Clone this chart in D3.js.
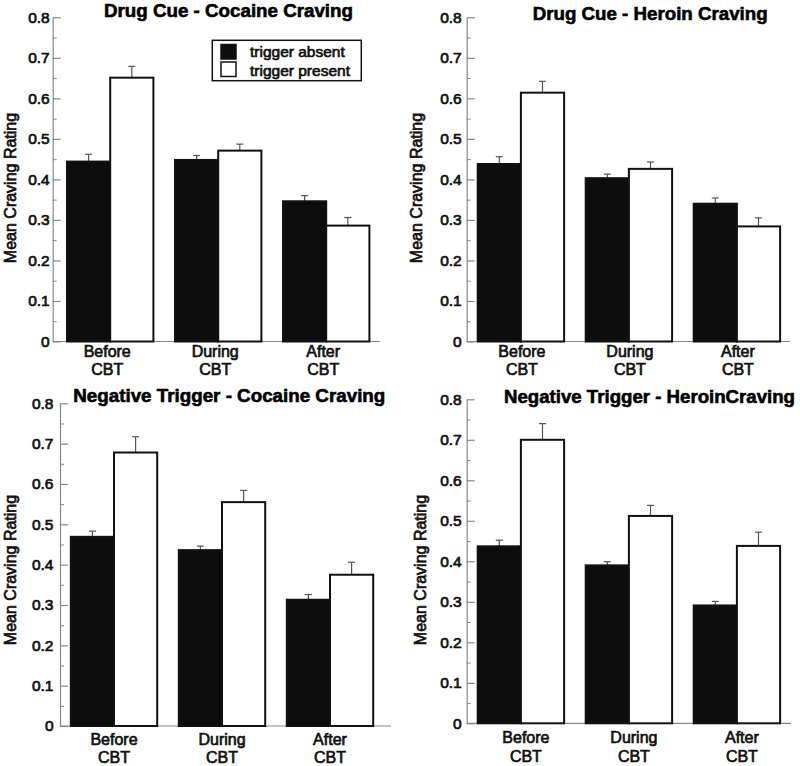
<!DOCTYPE html>
<html>
<head>
<meta charset="utf-8">
<script src="https://cdn.jsdelivr.net/npm/d3@7"></script>
<style>
  html, body { margin: 0; padding: 0; background: #fff; }
  svg { display: block; font-family: "Liberation Sans", Arial, Helvetica, sans-serif; }
  .heavy { stroke: #111; stroke-width: 0.7px; }
  .heavyT { stroke: #000; stroke-width: 0.6px; }
</style>
</head>
<body>
<svg id="chart" width="800" height="766"></svg>
<script>
// ---- data ----
const groupLine1 = ["Before", "During", "After"];
const groupLine2 = ["CBT", "CBT", "CBT"];
const seriesNames = ["trigger absent", "trigger present"];
const titles = [
  "Drug Cue - Cocaine Craving",
  "Drug Cue - Heroin Craving",
  "Negative Trigger - Cocaine Craving",
  "Negative Trigger - HeroinCraving"
];
const yLabel = "Mean Craving Rating";
const yTicks = [0, 0.1, 0.2, 0.3, 0.4, 0.5, 0.6, 0.7, 0.8];
const yMinorTicks = [0.05, 0.15, 0.25, 0.35, 0.45, 0.55, 0.65, 0.75];

const absentMeans  = [[0.444, 0.448, 0.346], [0.438, 0.403, 0.340], [0.469, 0.436, 0.313], [0.437, 0.390, 0.291]];
const absentErr    = [[0.018, 0.011, 0.014], [0.018, 0.010, 0.014], [0.014, 0.010, 0.013], [0.015, 0.009, 0.010]];
const presentMeans = [[0.651, 0.471, 0.286], [0.614, 0.426, 0.284], [0.678, 0.555, 0.375], [0.700, 0.512, 0.438]];
const presentErr   = [[0.028, 0.016, 0.020], [0.028, 0.017, 0.021], [0.039, 0.029, 0.031], [0.040, 0.026, 0.034]];

// ---- layout (pixels) ----
const layout = [
  { axisX: 52.7,  xEnd: 380,   bandStart: 56.2,  y0: 341.5, yTop: 17.3,  tickPad: 3,  titleX: 104,   titleW: 249, titleY: 16.7, labX: 16,  labY: 188, xlabDx: -3, xl1: 15.5, xl2: 33.5, legend: true },
  { axisX: 466.7, xEnd: 790,   bandStart: 466.9, y0: 341.5, yTop: 17.3,  tickPad: 5,  titleX: 532.7, titleW: 235, titleY: 20.2, labX: 422, labY: 188, xlabDx: 1,  xl1: 15.5, xl2: 33.5, legend: false },
  { axisX: 60,    xEnd: 391,   bandStart: 60,    y0: 726,   yTop: 403.3, tickPad: 6.5,titleX: 73.3,  titleW: 312, titleY: 401.7, labX: 16, labY: 570, xlabDx: 0,  xl1: 18.5, xl2: 37,   legend: false },
  { axisX: 466.7, xEnd: 791,   bandStart: 466.9, y0: 723.3, yTop: 399.3, tickPad: 5,  titleX: 504,   titleW: 291, titleY: 403.3, labX: 426, labY: 570, xlabDx: 5, xl1: 20,   xl2: 39,   legend: false }
];
const stepPx = 108;

const svg = d3.select("#chart");

layout.forEach((L, p) => {
  const g = svg.append("g");
  const y = d3.scaleLinear().domain([0, 0.8]).range([L.y0, L.yTop]);
  const x0 = d3.scaleBand().domain(groupLine1)
    .range([L.bandStart, L.bandStart + stepPx * 3])
    .paddingInner(0.2).paddingOuter(0.1);
  const x1 = d3.scaleBand().domain(seriesNames).range([0, x0.bandwidth()]);

  const rows = groupLine1.map((grp, i) => ({
    grp,
    vals: [
      { s: seriesNames[0], m: absentMeans[p][i], e: absentErr[p][i] },
      { s: seriesNames[1], m: presentMeans[p][i], e: presentErr[p][i] }
    ]
  }));

  // error bars
  const eg = g.append("g");
  rows.forEach(r => {
    r.vals.forEach(v => {
      const cx = x0(r.grp) + x1(v.s) + x1.bandwidth() / 2;
      eg.append("line").attr("x1", cx).attr("x2", cx)
        .attr("y1", y(v.m)).attr("y2", y(v.m + v.e))
        .attr("stroke", "#555").attr("stroke-width", 1.2);
      eg.append("line").attr("x1", cx - 3.5).attr("x2", cx + 3.5)
        .attr("y1", y(v.m + v.e)).attr("y2", y(v.m + v.e))
        .attr("stroke", "#555").attr("stroke-width", 1.2);
    });
  });

  // axes
  const yMinor = d3.axisLeft(y).tickValues(yMinorTicks).tickSize(-4).tickFormat("").tickSizeOuter(0);
  const ay2 = g.append("g").attr("transform", `translate(${L.axisX},0)`).call(yMinor);
  ay2.select(".domain").remove();
  ay2.selectAll("line").attr("stroke", "#888");

  const yAxis = d3.axisLeft(y).tickValues(yTicks).tickSize(-8).tickSizeOuter(0)
    .tickPadding(L.tickPad).tickFormat(d => d === 0 ? "0" : d3.format(".1f")(d));
  const ay = g.append("g").attr("transform", `translate(${L.axisX},0)`).call(yAxis);
  ay.select(".domain").attr("stroke", "#888").attr("stroke-width", 1.2);
  ay.selectAll("line").attr("stroke", "#888").attr("stroke-width", 1.2);
  ay.selectAll("text").attr("font-size", 15.5).attr("fill", "#111")
    .attr("font-family", "Liberation Sans, Arial, sans-serif").attr("class", "heavy");

  g.append("line").attr("x1", L.axisX).attr("x2", L.xEnd)
    .attr("y1", L.y0).attr("y2", L.y0)
    .attr("stroke", "#888").attr("stroke-width", 1.2);

  // bars
  const bg = g.append("g");
  rows.forEach(r => {
    bg.selectAll(null).data(r.vals).enter().append("rect")
      .attr("x", d => x0(r.grp) + x1(d.s))
      .attr("y", d => y(d.m))
      .attr("width", x1.bandwidth())
      .attr("height", d => y(0) - y(d.m))
      .attr("fill", (d, i) => i === 0 ? "#0d0d0d" : "#ffffff")
      .attr("stroke", "#111")
      .attr("stroke-width", 2);
  });

  // x category labels
  const xl = g.append("g");
  groupLine1.forEach((grp, i) => {
    const cx = x0(grp) + x0.bandwidth() / 2 + L.xlabDx;
    xl.append("text").attr("x", cx).attr("y", L.y0 + L.xl1).attr("class", "heavy")
      .attr("text-anchor", "middle").attr("font-size", 16).attr("fill", "#111").text(grp);
    xl.append("text").attr("x", cx).attr("y", L.y0 + L.xl2).attr("class", "heavy")
      .attr("text-anchor", "middle").attr("font-size", 16).attr("fill", "#111").text(groupLine2[i]);
  });

  // y label
  g.append("text").attr("class", "heavy")
    .attr("transform", `translate(${L.labX},${L.labY}) rotate(-90)`)
    .attr("text-anchor", "middle").attr("font-size", 16).attr("fill", "#111")
    .text(yLabel);

  // title
  g.append("text").attr("x", L.titleX).attr("y", L.titleY).attr("class", "heavyT")
    .attr("font-size", 18.5).attr("font-weight", "bold").attr("fill", "#000")
    .attr("textLength", L.titleW).attr("lengthAdjust", "spacingAndGlyphs")
    .text(titles[p]);

  // legend
  if (L.legend) {
    const lg = g.append("g");
    lg.append("rect").attr("x", 212.3).attr("y", 40.3).attr("width", 149).attr("height", 40.4)
      .attr("fill", "#fff").attr("stroke", "#111").attr("stroke-width", 1.5);
    seriesNames.forEach((s, i) => {
      lg.append("rect").attr("x", 221).attr("y", 44.5 + i * 17.5).attr("width", 15).attr("height", 14.5)
        .attr("fill", i === 0 ? "#0d0d0d" : "#fff").attr("stroke", "#111").attr("stroke-width", 1.5);
      lg.append("text").attr("x", 250).attr("y", 56.7 + i * 18.8).attr("class", "heavy")
        .attr("font-size", 15.5).attr("fill", "#111").text(s);
    });
  }
});
</script>
</body>
</html>
